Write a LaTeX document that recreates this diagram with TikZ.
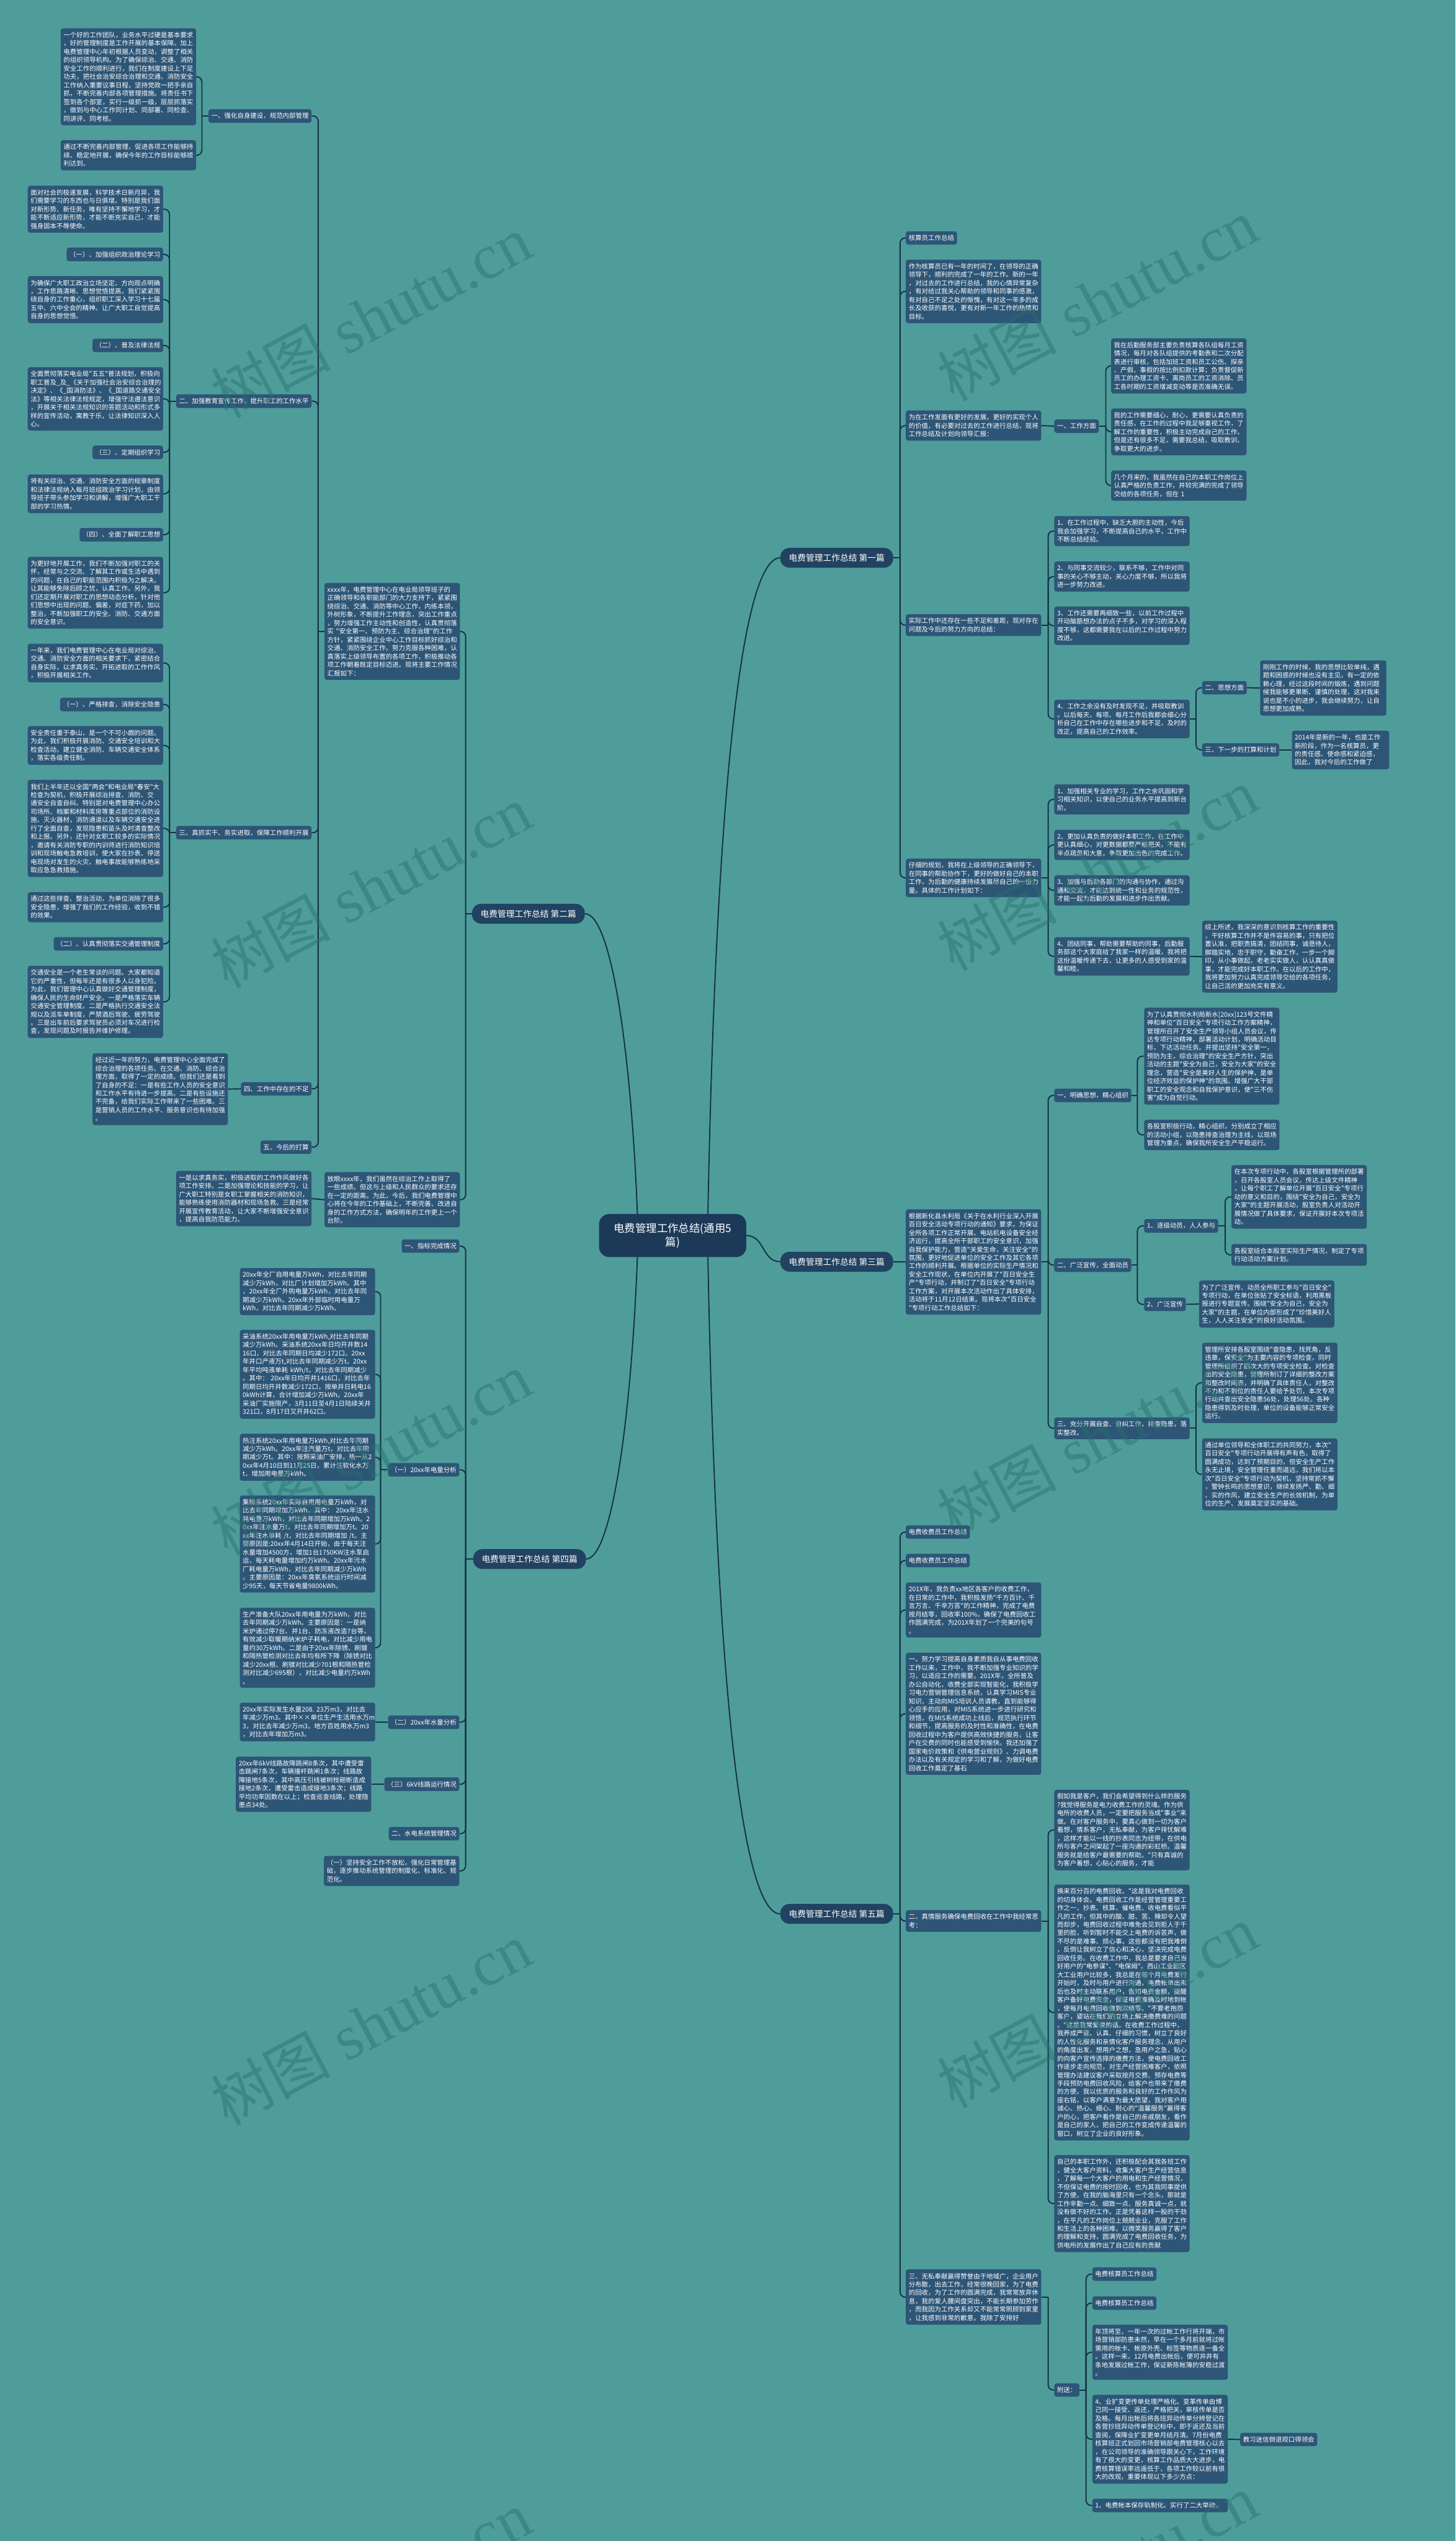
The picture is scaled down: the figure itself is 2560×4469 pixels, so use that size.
\documentclass[tikz,border=0pt]{standalone}
\usepackage{fontspec}
\newfontfamily\cjk{Noto Sans CJK SC}
\newfontfamily\wmserif{Liberation Serif}
\usetikzlibrary{calc}
\definecolor{bgc}{RGB}{78,157,155}
\definecolor{nodec}{RGB}{45,85,118}
\definecolor{labc}{RGB}{33,66,96}
\definecolor{cenc}{RGB}{28,58,88}
\definecolor{linec}{RGB}{22,50,70}
\definecolor{wmc}{RGB}{40,112,110}
\tikzset{
 box/.style={fill=nodec, text=white, rounded corners=4pt, inner xsep=5pt, inner ysep=6.5pt, font=\cjk\fontsize{11.4}{14.7}\selectfont, align=left},
 tw/.style={box, text width=228pt},
 lab/.style={fill=labc, text=white, rounded corners=16pt, inner xsep=15pt, inner ysep=10.5pt, font=\cjk\fontsize{15}{18}\selectfont},
 cen/.style={fill=cenc, text=white, rounded corners=18pt, inner xsep=26pt, inner ysep=16pt, font=\cjk\fontsize{19}{24}\selectfont, align=center},
 conn/.style={draw=linec, line width=2.1pt},
 wm/.style={text=wmc, opacity=0.45, rotate=28, inner sep=0pt}
}
\newcommand\conR[3]{\draw[conn] (#1.east) -- ++(#2,0) coordinate (tmpc);\draw[conn,rounded corners=9pt] (tmpc) |- (#3.west);}
\newcommand\conL[3]{\draw[conn] (#1.west) -- ++(-#2,0) coordinate (tmpc);\draw[conn,rounded corners=9pt] (tmpc) |- (#3.east);}
\newcommand\wmark[2]{\node[wm] at (#1,#2) {{\cjk\fontsize{105}{105}\selectfont 树图}\hspace{28pt}{\wmserif\fontsize{112}{112}\selectfont shutu.cn}};}
\begin{document}
\begin{tikzpicture}[x=1pt,y=-1pt]
\fill[bgc] (0,0) rectangle (2560,4469);
\useasboundingbox (0,0) rectangle (2560,4469);

% ---------- center and branch labels ----------
\node[cen] (cn) at (1183,2173) {电费管理工作总结(通用5\\篇)};
\node[lab, anchor=east] (b1) at (1571,981) {电费管理工作总结 第一篇};
\node[lab, anchor=west] (b2) at (830,1607) {电费管理工作总结 第二篇};
\node[lab, anchor=east] (b3) at (1571,2219) {电费管理工作总结 第三篇};
\node[lab, anchor=west] (b4) at (832,2742) {电费管理工作总结 第四篇};
\node[lab, anchor=east] (b5) at (1571,3366) {电费管理工作总结 第五篇};

\draw[conn] ($(cn.north)+(62,0)$) .. controls (1258,1450) and (1300,981) .. (b1.west);
\draw[conn] ($(cn.south)+(62,0)$) .. controls (1258,2900) and (1300,3366) .. (b5.west);
\draw[conn] (cn.east) .. controls (1345,2173) and (1340,2219) .. (b3.west);
\draw[conn] ($(cn.north)+(-62,0)$) .. controls (1110,1850) and (1075,1607) .. (b2.east);
\draw[conn] ($(cn.south)+(-62,0)$) .. controls (1110,2500) and (1075,2742) .. (b4.east);

% ---------- 第一篇 ----------
\node[box, anchor=west] (n1a) at (1593,418.5) {核算员工作总结};
\node[tw, anchor=west] (n1b) at (1593,512.5) {作为核算员已有一年的时间了，在领导的正确\\领导下，顺利的完成了一年的工作。新的一年\\，对过去的工作进行总结，我的心情异常复杂\\，有对给过我关心帮助的领导和同事的感激，\\有对自己不足之处的惭愧，有对这一年多的成\\长及收获的喜悦，更有对新一年工作的热情和\\目标。};
\node[tw, anchor=west] (n1c) at (1593,748.5) {为在工作发面有更好的发展，更好的实现个人\\的价值，有必要对过去的工作进行总结，现将\\工作总结及计划向领导汇报：};
\node[box, anchor=west] (n1c1) at (1854,749.5) {一、工作方面};
\node[tw, anchor=west] (n1c1a) at (1954,643.5) {我在后勤服务部主要负责核算各队组每月工资\\情况，每月对各队组提供的考勤表和二次分配\\表进行审核，包括加班工资和员工公伤、探亲\\、产假、事假的按比例扣款计算；负责督促新\\员工的办理工资卡、离岗员工的工资消除、员\\工各时期的工资增减变动等是否准确无误。};
\node[tw, anchor=west] (n1c1b) at (1954,759.5) {我的工作需要细心，耐心，更需要认真负责的\\责任感，在工作的过程中我足够重视工作，了\\解工作的重要性，积极主动完成自己的工作，\\但是还有很多不足，需要我总结，吸取教训，\\争取更大的进步。};
\node[tw, anchor=west] (n1c1c) at (1954,854) {几个月来的，我虽然在自己的本职工作岗位上\\认真严格的负责工作，并较完满的完成了领导\\交给的各项任务，但在 1};
\node[tw, anchor=west] (n1d) at (1593,1099.5) {实际工作中还存在一些不足和差距，现对存在\\问题及今后的努力方向的总结：};
\node[tw, anchor=west] (n1d1) at (1854,934) {1、在工作过程中，缺乏大胆的主动性，今后\\我会加强学习，不断提高自己的水平，工作中\\不断总结经验。};
\node[tw, anchor=west] (n1d2) at (1854,1014) {2、与同事交流较少，联系不够，工作中对同\\事的关心不够主动，关心力度不够，所以我将\\进一步努力改进。};
\node[tw, anchor=west] (n1d3) at (1854,1100.5) {3、工作还需要再细致一些，以前工作过程中\\开动脑筋想办法的点子不多，对学习的深入程\\度不够，这都需要我在以后的工作过程中努力\\改进。};
\node[tw, anchor=west] (n1d4) at (1854,1264.5) {4、工作之余没有及时发现不足，并吸取教训\\。以后每天、每项、每月工作后我都会细心分\\析自己在工作中存在哪些进步和不足，及时的\\改正，提高自己的工作效率。};
\node[box, anchor=west] (n1d4a) at (2114,1209.5) {二、思想方面};
\node[tw, anchor=west, text width=212pt] (n1d4a1) at (2216,1210) {刚刚工作的时候，我的思想比较单纯，遇\\题和困惑的时候也没有主见，有一定的依\\赖心理，经过这段时间的锻炼，遇到问题\\候我能够更果断、谨慎的处理，这对我来\\说也是不小的进步，我会继续努力，让自\\思想更加成熟。};
\node[box, anchor=west] (n1d4b) at (2114,1319) {三、下一步的打算和计划};
\node[tw, anchor=west, text width=161pt] (n1d4b1) at (2272,1319) {2014年是新的一年，也是工作\\新阶段，作为一名核算员，更\\的责任感、使命感和紧迫感，\\因此，我对今后的工作做了};
\node[tw, anchor=west] (n1e) at (1593,1544) {仔细的规划，我将在上级领导的正确领导下，\\在同事的帮助协作下，更好的做好自己的本职\\工作，为后勤的健康持续发展尽自己的一份力\\量。具体的工作计划如下：};
\node[tw, anchor=west] (n1e1) at (1854,1406) {1、加强相关专业的学习，工作之余巩固和学\\习相关知识，以使自己的业务水平提高到新台\\阶。};
\node[tw, anchor=west] (n1e2) at (1854,1486) {2、更加认真负责的做好本职工作，在工作中\\更认真细心，对更数据都要严格把关，不能有\\半点疏忽和大意，争取更加出色的完成工作。};
\node[tw, anchor=west] (n1e3) at (1854,1566) {3、加强与后勤各部门的沟通与协作，通过沟\\通和交流，才能达到统一性和业务的规范性，\\才能一起为后勤的发展和进步作出贡献。};
\node[tw, anchor=west] (n1e4) at (1854,1682) {4、团结同事，帮助需要帮助的同事，后勤服\\务部这个大家庭给了我家一样的温暖，我将把\\这份温暖传递下去，让更多的人感受到家的温\\馨和睦。};
\node[tw, anchor=west] (n1e4a) at (2114,1682.5) {综上所述，我深深的意识到核算工作的重要性\\，干好核算工作并不是件容易的事，只有把位\\置认准，把职责搞清，团结同事，诚恳待人，\\脚踏实地，忠于职守，勤奋工作，一步一个脚\\印，从小事做起，老老实实做人，认认真真做\\事，才能完成好本职工作。在以后的工作中，\\我将更加努力认真完成领导交给的各项任务，\\让自己活的更加充实有意义。};

\conR{b1}{12}{n1a}\conR{b1}{12}{n1b}\conR{b1}{12}{n1c}\conR{b1}{12}{n1d}\conR{b1}{12}{n1e}
\draw[conn] (n1c.east) -- (n1c1.west);
\conR{n1c1}{12}{n1c1a}\conR{n1c1}{12}{n1c1b}\conR{n1c1}{12}{n1c1c}
\conR{n1d}{12}{n1d1}\conR{n1d}{12}{n1d2}\conR{n1d}{12}{n1d3}\conR{n1d}{12}{n1d4}
\conR{n1d4}{11}{n1d4a}\conR{n1d4}{11}{n1d4b}
\draw[conn] (n1d4a.east) -- (n1d4a1.west);
\draw[conn] (n1d4b.east) -- (n1d4b1.west);
\conR{n1e}{12}{n1e1}\conR{n1e}{12}{n1e2}\conR{n1e}{12}{n1e3}\conR{n1e}{12}{n1e4}
\draw[conn] (n1e4.east) -- (n1e4a.west);

% ---------- 第三篇 ----------
\node[tw, anchor=west] (n3a) at (1593,2219.5) {根据新化县水利局《关于在水利行业深入开展\\百日安全活动专项行动的通知》要求，为保证\\全所各项工作正常开展、电站机电设备安全经\\济运行，提高全所干部职工的安全意识，加强\\自我保护能力，营造"关爱生命，关注安全"的\\氛围，更好地促进单位的安全工作及其它各项\\工作的顺利开展。根据单位的实际生产情况和\\安全工作现状，在单位内开展了"百日安全生\\产"专项行动，并制订了"百日安全"专项行动\\工作方案，对开展本次活动作出了具体安排，\\活动将于11月12日结束。现将本次"百日安全\\"专项行动工作总结如下：};
\node[box, anchor=west] (n3a1) at (1854,1926.5) {一、明确思想，精心组织};
\node[tw, anchor=west] (n3a1a) at (2012,1857.5) {为了认真贯彻水利局新水[20xx]123号文件精\\神和单位"百日安全"专项行动工作方案精神，\\管理所召开了安全生产领导小组人员会议，传\\达专项行动精神，部署活动计划，明确活动目\\标，下达活动任务。并提出坚持"安全第一，\\预防为主，综合治理"的安全生产方针，突出\\活动的主题"安全为自己，安全为大家"的安全\\理念，营造"安全是美好人生的保护神，是单\\位经济效益的保护神"的氛围。增强广大干部\\职工的安全观念和自我保护意识，使"三不伤\\害"成为自觉行动。};
\node[tw, anchor=west] (n3a1b) at (2012,1996) {各股室积极行动，精心组织，分别成立了相应\\的活动小组，以隐患排查治理为主线，以现场\\管理为重点，确保我所安全生产平稳运行。};
\node[box, anchor=west] (n3a2) at (1854,2225) {二、广泛宣传，全面动员};
\node[box, anchor=west] (n3a2a) at (2012,2156) {1、逐级动员，人人参与};
\node[tw, anchor=west] (n3a2a1) at (2165.6,2105) {在本次专项行动中，各股室根据管理所的部署\\，召开各股室人员会议，传达上级文件精神\\，让每个职工了解单位开展"百日安全"专项行\\动的意义和目的，围绕"安全为自己，安全为\\大家"的主题开展活动，股室负责人对活动开\\展情况做了具体要求，保证开展好本次专项活\\动。};
\node[tw, anchor=west] (n3a2a2) at (2165.6,2207) {各股室结合本股室实际生产情况，制定了专项\\行动活动方案计划。};
\node[box, anchor=west] (n3a2b) at (2012,2294) {2、广泛宣传};
\node[tw, anchor=west] (n3a2b1) at (2108.6,2293.5) {为了广泛宣传、动员全所职工参与"百日安全"\\专项行动，在单位张贴了安全标语，利用黑板\\报进行专题宣传。围绕"安全为自己，安全为\\大家"的主题，在单位内部形成了"珍惜美好人\\生，人人关注安全"的良好活动氛围。};
\node[tw, anchor=west] (n3a3) at (1854,2512) {三、充分开展自查、自纠工作，排查隐患，落\\实整改。};
\node[tw, anchor=west] (n3a3a) at (2114,2432) {管理所安排各股室围绕"查隐患，找死角，反\\违章，保安全"为主要内容的专项检查，同时\\管理所组织了四次大的专项安全检查。对检查\\出的安全隐患，管理所制订了详细的整改方案\\和整改时间表，并明确了具体责任人，对整改\\不力和不到位的责任人要给予处罚，本次专项\\行动共查出安全隐患56处，处理56处。各种\\隐患得到及时处理，单位的设备能够正常安全\\运行。};
\node[tw, anchor=west] (n3a3b) at (2114,2593) {通过单位领导和全体职工的共同努力，本次"\\百日安全"专项行动开展得有声有色，取得了\\圆满成功，达到了预期目的，但安全生产工作\\永无止境，安全管理任重而道远，我们将以本\\次"百日安全"专项行动为契机，坚持常抓不懈\\，警钟长鸣的思想意识，继续发扬严、勤、细\\、实的作风，建立安全生产的长效机制，为单\\位的生产、发展奠定坚实的基础。};

\draw[conn] (b3.east) -- (n3a.west);
\conR{n3a}{12}{n3a1}\conR{n3a}{12}{n3a2}\conR{n3a}{12}{n3a3}
\conR{n3a1}{10.5}{n3a1a}\conR{n3a1}{10.5}{n3a1b}
\conR{n3a2}{10.5}{n3a2a}\conR{n3a2}{10.5}{n3a2b}
\conR{n3a2a}{12}{n3a2a1}\conR{n3a2a}{12}{n3a2a2}
\draw[conn] (n3a2b.east) -- (n3a2b1.west);
\conR{n3a3}{11}{n3a3a}\conR{n3a3}{11}{n3a3b}

% ---------- 第五篇 ----------
\node[box, anchor=west] (n5a) at (1593,2694.5) {电费收费员工作总结};
\node[box, anchor=west] (n5b) at (1593,2744.5) {电费收费员工作总结};
\node[tw, anchor=west] (n5c) at (1593,2831.5) {201X年，我负责xx地区各客户的收费工作，\\在日常的工作中，我积极发扬"千方百计、千\\言万言、千辛万苦"的工作精神，完成了电费\\按月结零，回收率100\%，确保了电费回收工\\作圆满完成，为201X年划了一个完美的句号\\。};
\node[tw, anchor=west] (n5d) at (1593,3014) {一、努力学习提高自身素质我自从事电费回收\\工作以来，工作中，我不断加强专业知识的学\\习，以适应工作的需要。201X年，全所普及\\办公自动化，收费全部实现智能化，我积极学\\习电力营销管理信息系统，认真学习MIS专业\\知识，主动向MIS培训人员请教，直到能够得\\心应手的应用，对MIS系统进一步进行研究和\\领悟，在MIS系统成功上线后，规范执行环节\\和细节，提高服务的及时性和准确性，在电费\\回收过程中为客户提供高效快捷的服务，让客\\户在交费的同时也能感受到愉快。我还加强了\\国家电价政策和《供电营业规则》、力调电费\\办法以及有关规定的学习和了解，为做好电费\\回收工作奠定了基石};
\node[tw, anchor=west] (n5e) at (1593,3378.5) {二、真情服务确保电费回收在工作中我经常思\\考：};
\node[tw, anchor=west] (n5e1) at (1854,3218.5) {假如我是客户，我们会希望得到什么样的服务\\?我觉得服务是电力收费工作的灵魂。作为供\\电所的收费人员，一定要把服务当成"事业"来\\做。在对客户服务中，要真心做到一切为客户\\着想，情系客户，无私奉献，为客户排忧解难\\，这样才能以一线的抄表同志为纽带，在供电\\所与客户之间架起了一座沟通的彩虹桥。温馨\\服务就是给客户最需要的帮助。"只有真诚的\\为客户着想，心贴心的服务，才能};
\node[tw, anchor=west] (n5e2) at (1854,3539.5) {换来百分百的电费回收。"这是我对电费回收\\的切身体会。电费回收工作是经营管理重要工\\作之一，抄表、核算、催电费、收电费看似平\\凡的工作，但其中的酸、甜、苦、辣却令人望\\而却步，电费回收过程中难免会见到拒人于千\\里的脸，听到暂时不能交上电费的诉苦声，做\\不尽的是难事、烦心事。这些都没有把我难倒\\，反倒让我树立了信心和决心，坚决完成电费\\回收任务。在收费工作中，我总是要求自己当\\好用户的"电参谋"、"电保姆"。西山工业园区\\大工业用户比较多，我总是在每个月电费发行\\开始时，及时与用户进行沟通，电费帐单出来\\后也及时主动联系用户，告知电费金额，提醒\\客户备好电费资金，保证电费准确及时地到帐\\，使每月电费回收做到双结零。"不要老抱怨\\客户，要站在我们的立场上解决缴费难的问题\\。"这是我常爱说的话。在收费工作过程中，\\我养成严谨、认真、仔细的习惯，树立了良好\\的人性化服务和亲情化客户服务理念，从用户\\的角度出发，想用户之想，急用户之急，贴心\\的向客户宣传选择的缴费方法，使电费回收工\\作逐步走向规范，对生产经营困难客户，依照\\管理办法建议客户采取按月交费、预存电费等\\手段预防电费回收风险，给客户也带来了缴费\\的方便。我以优质的服务和良好的工作作风为\\座右铭，以客户满意为最大愿望，我对客户用\\诚心、热心、细心、耐心的"温馨服务"赢得客\\户的心，把客户看作是自己的亲戚朋友，看作\\是自己的家人，把自己的工作变成传递温馨的\\窗口，树立了企业的良好形象。};
\node[tw, anchor=west] (n5e3) at (1854,3875.5) {自己的本职工作外，还积极配合其我各班工作\\，健全大客户资料，收集大客户生产经营信息\\，了解每一个大客户的用电和生产经营情况，\\不但保证电费的按时回收，也为其我同事提供\\了方便。在我的脑海里只有一个念头，那就是\\工作辛勤一点、细致一点、服务真诚一点，就\\没有做不好的工作。正是凭着这样一股的干劲\\，在平凡的工作岗位上兢兢业业，克服了工作\\和生活上的各种困难，以微笑服务赢得了客户\\的理解和支持，圆满完成了电费回收任务，为\\供电所的发展作出了自己应有的贡献};
\node[tw, anchor=west] (n5f) at (1593,4040) {三、无私奉献赢得赞誉由于地域广，企业用户\\分布散，出去工作，经常很晚回家，为了电费\\的回收，为了工作的圆满完成，我常常放弃休\\息，我的爱人腰间盘突出，不能长期参加劳作\\，而我因为工作关系却又不能常常照顾到家里\\，让我感到非常的歉意。我除了安排好};
\node[box, anchor=west] (n5f1) at (1854,4203.5) {附送：};
\node[box, anchor=west] (n5f1a) at (1921,3999.5) {电费核算员工作总结};
\node[box, anchor=west] (n5f1b) at (1921,4050.5) {电费核算员工作总结};
\node[tw, anchor=west] (n5f1c) at (1921,4137) {年顶将至，一年一次的过帐工作行将开端，市\\场营销部防患未然，早在一个多月前就将过帐\\需用的帐卡、帐原外壳、标签等物质逐一备全\\。这样一来，12月电费出帐后，便可井井有\\条地发展过帐工作，保证新陈帐簿的安稳过渡\\。};
\node[tw, anchor=west] (n5f1d) at (1921,4290) {4、业扩变更传单处理严格化。变革传单由博\\己同一接受、返还，严格把关，审核传单是否\\及格。每月出帐后将各班异动传单分辨登记在\\各营抄班异动传单登记标中，即于返还及当前\\查阅，保障业扩变更单月结月清。7月份电费\\核算班正式划回市场营销部电费管理核心以去\\，在公司领导的准确领导跟关心下，工作环境\\有了很大的变更，核算工作品质大大进步，电\\费核算错误率远遥低于，各项工作较以前有很\\大的改观，重要体现以下多少方点：};
\node[tw, anchor=west] (n5f1e) at (1921,4406.5) {1、电费帐本保存轨制化。实行了二大举动，};
\node[box, anchor=west] (n5f1d1) at (2181,4290.5) {教习迷信倒退观口得领会};

\conR{b5}{12}{n5a}\conR{b5}{12}{n5b}\conR{b5}{12}{n5c}\conR{b5}{12}{n5d}\conR{b5}{12}{n5e}\conR{b5}{12}{n5f}
\conR{n5e}{12}{n5e1}\conR{n5e}{12}{n5e2}\conR{n5e}{12}{n5e3}
\conR{n5f}{12}{n5f1}
\conR{n5f1}{11.5}{n5f1a}\conR{n5f1}{11.5}{n5f1b}\conR{n5f1}{11.5}{n5f1c}\conR{n5f1}{11.5}{n5f1d}\conR{n5f1}{11.5}{n5f1e}
\draw[conn] (n5f1d.east) -- (n5f1d1.west);

% ---------- 第二篇 ----------
\node[tw, anchor=east] (n2X) at (809,1110.5) {xxxx年，电费管理中心在电业局领导班子的\\正确领导和各职能部门的大力支持下，紧紧围\\绕综治、交通、消防等中心工作，内练本领，\\外树形象，不断提升工作理念，突出工作重点\\，努力增强工作主动性和创造性，认真贯彻落\\实 "安全第一、预防为主、综合治理"的工作\\方针，紧紧围绕企业中心工作目标抓好综治和\\交通、消防安全工作。努力克服各种困难，认\\真落实上级领导布置的各项工作，积极推动各\\项工作朝着既定目标迈进。现将主要工作情况\\汇报如下：};
\node[tw, anchor=east] (n2F) at (809,2110) {放眼xxxx年，我们虽然在综治工作上取得了\\一些成绩。但这与上级和人民群众的要求还存\\在一定的距离。为此，今后，我们电费管理中\\心将在今年的工作基础上，不断完善、改进自\\身的工作方式方法，确保明年的工作更上一个\\台阶。};
\node[tw, anchor=east] (n2F1) at (548,2108) {一是以求真务实，积极进取的工作作风做好各\\项工作安排。二是加强理论和技能的学习，让\\广大职工特别是女职工掌握相关的消防知识，\\能够熟练使用消防器材和现场急救。三是经常\\开展宣传教育活动，让大家不断增强安全意识\\，提高自我防范能力。};

\node[box, anchor=east] (n21) at (548,204) {一、强化自身建设，规范内部管理};
\node[tw, anchor=east] (n21a) at (345,135) {一个好的工作团队，业务水平过硬是基本要求\\，好的管理制度是工作开展的基本保障。加上\\电费管理中心年初根据人员变动，调整了相关\\的组织领导机构。为了确保综治、交通、消防\\安全工作的顺利进行，我们在制度建设上下足\\功夫，把社会治安综合治理和交通、消防安全\\工作纳入重要议事日程，坚持党政一把手亲自\\抓，不断完善内部各项管理措施。将责任书下\\签到各个部室，实行一级抓一级，层层抓落实\\，做到与中心工作同计划、同部署、同检查、\\同讲评、同考核。};
\node[tw, anchor=east] (n21b) at (345,273) {通过不断完善内部管理，促进各项工作能够持\\续、稳定地开展，确保今年的工作目标能够顺\\利达到。};
\node[box, anchor=east] (n22) at (548,705.5) {二、加强教育宣传工作，提升职工的工作水平};
\node[tw, anchor=east] (n22a) at (287,368) {面对社会的极速发展，科学技术日新月异，我\\们需要学习的东西也与日俱增。特别是我们面\\对新形势、新任务，唯有坚持不懈地学习，才\\能不断适应新形势，才能不断充实自己，才能\\强身固本不辱使命。};
\node[box, anchor=east] (n22b) at (287,447.5) {（一）、加强组织政治理论学习};
\node[tw, anchor=east] (n22c) at (287,527) {为确保广大职工政治立场坚定、方向观点明确\\，工作思路清晰、思想觉悟提高，我们紧紧围\\绕自身的工作重心，组织职工深入学习十七届\\五中、六中全会的精神。让广大职工自觉提高\\自身的思想觉悟。};
\node[box, anchor=east] (n22d) at (287,607.5) {（二）、普及法律法规};
\node[tw, anchor=east] (n22e) at (287,701.5) {全面贯彻落实电业局"五五"普法规划，积极向\\职工普及\_及\_《关于加强社会治安综合治理的\\决定》、《\_国消防法》、《\_国道路交通安全\\法》等相关法律法规规定，增强守法遵法意识\\，开展关于相关法规知识的答题活动和形式多\\样的宣传活动，寓教于乐，让法律知识深入人\\心。};
\node[box, anchor=east] (n22f) at (287,795.5) {（三）、定期组织学习};
\node[tw, anchor=east] (n22g) at (287,868.5) {将有关综治、交通、消防安全方面的规章制度\\和法律法规纳入每月班组政治学习计划，由领\\导班子带头参加学习和讲解，增强广大职工干\\部的学习热情。};
\node[box, anchor=east] (n22h) at (287,940.5) {（四）、全面了解职工思想};
\node[tw, anchor=east] (n22i) at (287,1042.5) {为更好地开展工作，我们不断加强对职工的关\\怀，经常与之交流、了解其工作或生活中遇到\\的问题，在自己的职能范围内积极为之解决。\\让其能够免除后顾之忧，认真工作。另外，我\\们还定期开展对职工的思想动态分析，针对他\\们思想中出现的问题、偏差，对症下药，加以\\整治，不断加强职工的安全、消防、交通方面\\的安全意识。};
\node[box, anchor=east] (n23) at (548,1464.5) {三、真抓实干、务实进取，保障工作顺利开展};
\node[tw, anchor=east] (n23a) at (287,1166) {一年来，我们电费管理中心在电业局对综治、\\交通、消防安全方面的相关要求下，紧密结合\\自身实际，以求真务实、开拓进取的工作作风\\，积极开展相关工作。};
\node[box, anchor=east] (n23b) at (287,1239) {（一）、严格排查，消除安全隐患};
\node[tw, anchor=east] (n23c) at (287,1311) {安全责任重于泰山，是一个不可小觑的问题。\\为此，我们积极开展消防、交通安全培训和大\\检查活动。建立健全消防、车辆交通安全体系\\，落实各级责任制。};
\node[tw, anchor=east] (n23d) at (287,1457) {我们上半年还以全国"两会"和电业局"春安"大\\检查为契机，积极开展综治排查、消防、交\\通安全自查自纠。特别是对电费管理中心办公\\司场所、档案和材料库房等重点部位的消防设\\施、灭火器材，消防通道以及车辆交通安全进\\行了全面自查，发现隐患和苗头及时清查整改\\和上报。另外，还针对女职工较多的实际情况\\，邀请有关消防专职的内训师进行消防知识培\\训和现场触电急救培训，使大家在抄表、停送\\电现场对发生的火灾、触电事故能够熟练地采\\取应急急救措施。};
\node[tw, anchor=east] (n23e) at (287,1595.5) {通过这些排查、整治活动，为单位消除了很多\\安全隐患，增强了我们的工作经验，收到不错\\的效果。};
\node[box, anchor=east] (n23f) at (287,1660) {（二）、认真贯彻落实交通管理制度};
\node[tw, anchor=east] (n23g) at (287,1762) {交通安全是一个老生常谈的问题。大家都知道\\它的严重性，但每年还是有很多人以身犯险。\\为此，我们管理中心认真做好交通管理制度，\\确保人民的生命财产安全。一是严格落实车辆\\交通安全管理制度。二是严格执行交通安全法\\规以及派车单制度，严禁酒后驾驶、疲劳驾驶\\。三是出车前后要求驾驶员必须对车况进行检\\查，发现问题及时报告并维护修理。};
\node[box, anchor=east] (n24) at (548,1915) {四、工作中存在的不足};
\node[tw, anchor=east] (n24a) at (401,1915.5) {经过近一年的努力，电费管理中心全面完成了\\综合治理的各项任务。在交通、消防、综合治\\理方面，取得了一定的成绩。但我们还是看到\\了自身的不足：一是有些工作人员的安全意识\\和工作水平有待进一步提高。二是有些设施还\\不完备，给我们实际工作带来了一些困难。三\\是营销人员的工作水平、服务意识也有待加强\\。};
\node[box, anchor=east] (n25) at (548,2017.5) {五、今后的打算};

\conL{b2}{11}{n2X}\conL{b2}{11}{n2F}
\draw[conn] (n2F.west) -- (n2F1.east);
\conL{n2X}{11}{n21}\conL{n2X}{11}{n22}\conL{n2X}{11}{n23}\conL{n2X}{11}{n24}\conL{n2X}{11}{n25}
\conL{n21}{11.5}{n21a}\conL{n21}{11.5}{n21b}
\conL{n22}{11.5}{n22a}\conL{n22}{11.5}{n22b}\conL{n22}{11.5}{n22c}\conL{n22}{11.5}{n22d}\conL{n22}{11.5}{n22e}\conL{n22}{11.5}{n22f}\conL{n22}{11.5}{n22g}\conL{n22}{11.5}{n22h}\conL{n22}{11.5}{n22i}
\conL{n23}{11.5}{n23a}\conL{n23}{11.5}{n23b}\conL{n23}{11.5}{n23c}\conL{n23}{11.5}{n23d}\conL{n23}{11.5}{n23e}\conL{n23}{11.5}{n23f}\conL{n23}{11.5}{n23g}
\draw[conn] (n24.west) -- (n24a.east);

% ---------- 第四篇 ----------
\node[box, anchor=east] (n41) at (808,2191.5) {一、指标完成情况};
\node[box, anchor=east] (n42) at (808,2585) {（一）20xx年电量分析};
\node[tw, anchor=east] (n42a) at (660,2271.5) {20xx年全厂自用电量万kWh，对比去年同期\\减少万kWh，对比厂计划增加万kWh。其中\\，20xx年全厂外购电量万kWh，对比去年同\\期减少万kWh。20xx年外部临时用电量万\\kWh，对比去年同期减少万kWh。};
\node[tw, anchor=east] (n42b) at (660,2417) {采油系统20xx年用电量万kWh,对比去年同期\\减少万kWh。采油系统20xx年日均开井数14\\16口，对比去年同期日均减少172口。20xx\\年井口产液万t,对比去年同期减少万t。20xx\\年平均吨液单耗~kWh/t，对比去年同期减少\\。其中：~20xx年日均开井1416口，对比去年\\同期日均开井数减少172口，按单井日耗电16\\0kWh计算，合计增加减少万kWh。20xx年\\采油厂实施限产，3月11日至4月1日陆续关井\\321口，8月17日又开井62口。};
\node[tw, anchor=east] (n42c) at (660,2563) {热注系统20xx年用电量万kWh,对比去年同期\\减少万kWh。20xx年注汽量万t，对比去年同\\期减少万t。其中：按照采油厂安排，热一从2\\0xx年4月10日到11月25日，累计注软化水万\\t，增加用电量万kWh。};
\node[tw, anchor=east] (n42d) at (660,2715.5) {集输系统20xx年实际自用用电量万kWh，对\\比去年同期增加万kWh。其中：~20xx年注水\\耗电量万kWh，对比去年同期增加万kWh。2\\0xx年注水量万t，对比去年同期增加万t。20\\xx年注水单耗~/t，对比去年同期增加~/t。主\\要原因是:20xx年4月14日开始，由于每天注\\水量增加4500方，增加1台1750KW注水泵启\\运，每天耗电量增加约万kWh。20xx年污水\\厂耗电量万kWh，对比去年同期减少万kWh\\。主要原因是：20xx年臭氧系统运行时间减\\少95天，每天节省电量9800kWh。};
\node[tw, anchor=east] (n42e) at (660,2898) {生产准备大队20xx年用电量为万kWh，对比\\去年同期减少万kWh。主要原因是：一是纳\\米炉通过停7台、并1台、防冻液改造7台等，\\有效减少取暖期纳米炉子耗电，对比减少用电\\量约30万kWh。二是由于20xx年除锈、刷镀\\和隔热管检测对比去年均有所下降（除锈对比\\减少20xx根、刷镀对比减少701根和隔热管检\\测对比减少695根），对比减少电量约万kWh\\。};
\node[box, anchor=east] (n43) at (808,3029) {（二）20xx年水量分析};
\node[tw, anchor=east] (n43a) at (660,3028.5) {20xx年实际发生水量208.~23万m3，对比去\\年减少万m3。其中××单位生产生活用水万m\\3，对比去年减少万m3。地方百姓用水万m3\\，对比去年增加万m3。};
\node[box, anchor=east] (n44) at (808,3138) {（三）6kV线路运行情况};
\node[tw, anchor=east] (n44a) at (653,3138) {20xx年6kV线路故障跳闸8条次，其中遭受雷\\击跳闸7条次，车辆撞杆跳闸1条次；线路故\\障接地5条次，其中高压引线被树枝砸断造成\\接地2条次，遭受雷击造成接地3条次；线路\\平均功率因数在以上；检查巡查线路，处理隐\\患点34处。};
\node[box, anchor=east] (n45) at (808,3225) {二、水电系统管理情况};
\node[tw, anchor=east] (n46) at (808,3290.5) {（一）坚持安全工作不放松，强化日常管理基\\础，逐步推动系统管理的制度化、标准化、规\\范化。};

\conL{b4}{13}{n41}\conL{b4}{13}{n42}\conL{b4}{13}{n43}\conL{b4}{13}{n44}\conL{b4}{13}{n45}\conL{b4}{13}{n46}
\conL{n42}{13}{n42a}\conL{n42}{13}{n42b}\conL{n42}{13}{n42c}\conL{n42}{13}{n42d}\conL{n42}{13}{n42e}
\draw[conn] (n43.west) -- (n43a.east);
\draw[conn] (n44.west) -- (n44a.east);

% ---------- watermarks ----------
\foreach \yy in {528,1530,2528,3530,4530} {
  \wmark{652}{\yy+30}
  \wmark{1930}{\yy}
}
\end{tikzpicture}
\end{document}
